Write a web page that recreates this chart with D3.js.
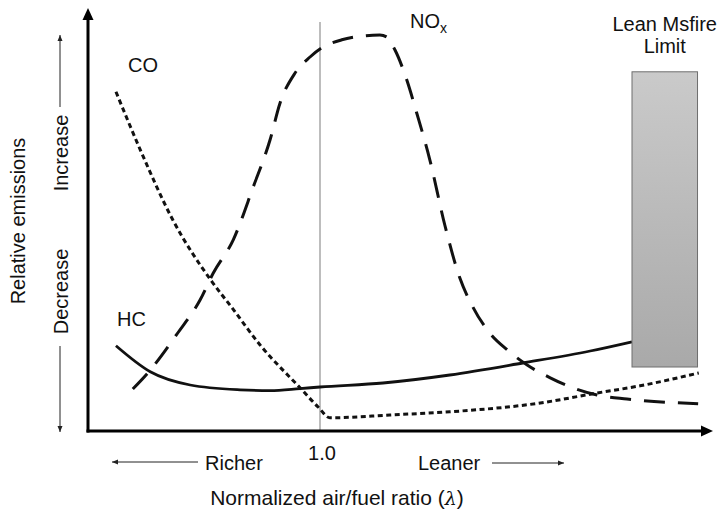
<!DOCTYPE html>
<html>
<head>
<meta charset="utf-8">
<script src="https://cdn.jsdelivr.net/npm/d3@7/dist/d3.min.js"></script>
<style>
  html, body { margin: 0; padding: 0; background: #fff; }
  svg { display: block; }
  text { font-family: "Liberation Sans", Arial, Helvetica, sans-serif; fill: #111; }
</style>
</head>
<body>
<div id="chart"></div>
<script>
// ---- Data ----
// x: normalized air/fuel ratio (lambda); y: relative emissions (arbitrary 0-100)
const coLambda  = [0.673, 0.712, 0.764, 0.827, 0.859, 0.904, 0.968, 0.997, 1.016, 1.112, 1.208, 1.353, 1.444, 1.513, 1.607];
const coValues  = [84.8, 70.3, 52.8, 37.3, 30.8, 21.5, 10.8, 6.0, 3.3, 4.0, 4.8, 7.0, 9.5, 11.3, 14.5];

const hcLambda  = [0.673, 0.728, 0.792, 0.872, 0.920, 0.968, 1.000, 1.101, 1.208, 1.325, 1.433, 1.500];
const hcValues  = [21.3, 14.8, 11.5, 10.3, 10.1, 10.6, 11.0, 12.0, 14.0, 17.0, 20.0, 22.3];

const noxLambda = [0.700, 0.724, 0.772, 0.808, 0.829, 0.861, 0.893, 0.920, 0.936, 0.960, 0.984, 1.003, 1.035, 1.056, 1.096, 1.107, 1.120, 1.139, 1.155, 1.176, 1.200, 1.224, 1.245, 1.272, 1.300, 1.332, 1.369, 1.405, 1.444, 1.492, 1.606];
const noxValues = [10.5, 14.5, 24.5, 32.8, 39.5, 47.8, 61.0, 72.8, 82.0, 89.5, 93.5, 95.8, 97.8, 98.5, 99.0, 98.5, 95.3, 87.8, 79.5, 67.8, 51.5, 38.3, 31.0, 24.5, 20.3, 16.5, 13.3, 10.8, 9.0, 8.0, 6.8];

const stoichLambda = 1.0;
const misfireLambda = [1.5, 1.605];   // lean misfire limit band
const misfireRange  = [16, 89.8];     // band extent on the emissions scale

const seriesLabels = { co: "CO", hc: "HC", nox: "NO", noxSub: "x" };
const tickLabels = ["1.0"];
const directionLabels = ["Richer", "Leaner"];
const yDirectionLabels = ["Increase", "Decrease"];
const xTitle = "Normalized air/fuel ratio (";
const xTitleSymbol = "\u03BB";
const yTitle = "Relative emissions";
const bandLabel = ["Lean Msfire", "Limit"];

// ---- Layout ----
const W = 722, H = 510;
const frame = { left: 88, bottom: 431, top: 8, right: 713 };

const svg = d3.select("#chart").append("svg").attr("width", W).attr("height", H);

const x = d3.scaleLinear().domain([1.0, 1.5]).range([320, 632]);
const y = d3.scaleLinear().domain([0, 100]).range([431, 31]);

const defs = svg.append("defs");
const grad = defs.append("linearGradient").attr("id", "bandGrad")
  .attr("x1", 0).attr("y1", 0).attr("x2", 0).attr("y2", 1);
grad.append("stop").attr("offset", "0%").attr("stop-color", "#cacaca");
grad.append("stop").attr("offset", "100%").attr("stop-color", "#a9a9a9");

// stoichiometric line
svg.append("line")
  .attr("x1", x(stoichLambda)).attr("x2", x(stoichLambda))
  .attr("y1", 22).attr("y2", frame.bottom)
  .attr("stroke", "#bdbdbd").attr("stroke-width", 2);

// curves
const line = d3.line().x(d => x(d[0])).y(d => y(d[1])).curve(d3.curveMonotoneX);
const co  = coLambda.map((l, i) => [l, coValues[i]]);
const hc  = hcLambda.map((l, i) => [l, hcValues[i]]);
const nox = noxLambda.map((l, i) => [l, noxValues[i]]);

svg.append("path").datum(nox).attr("d", line)
  .attr("fill", "none").attr("stroke", "#111").attr("stroke-width", 3)
  .attr("stroke-dasharray", "21,13");
svg.append("path").datum(co).attr("d", line)
  .attr("fill", "none").attr("stroke", "#111").attr("stroke-width", 3)
  .attr("stroke-dasharray", "5,3.5");
svg.append("path").datum(hc).attr("d", line)
  .attr("fill", "none").attr("stroke", "#111").attr("stroke-width", 2.8);

// lean misfire band
svg.append("rect")
  .attr("x", x(misfireLambda[0])).attr("width", x(misfireLambda[1]) - x(misfireLambda[0]))
  .attr("y", y(misfireRange[1])).attr("height", y(misfireRange[0]) - y(misfireRange[1]))
  .attr("fill", "url(#bandGrad)").attr("stroke", "#6e6e6e").attr("stroke-width", 1);

const bandCx = (x(misfireLambda[0]) + x(misfireLambda[1])) / 2;
svg.append("text").attr("x", bandCx).attr("y", 31).attr("text-anchor", "middle")
  .attr("font-size", 20).text(bandLabel[0]);
svg.append("text").attr("x", bandCx).attr("y", 53).attr("text-anchor", "middle")
  .attr("font-size", 20).text(bandLabel[1]);

// axes with arrowheads
svg.append("line").attr("x1", frame.left).attr("x2", frame.left)
  .attr("y1", frame.bottom + 1.5).attr("y2", frame.top + 8)
  .attr("stroke", "#000").attr("stroke-width", 3);
svg.append("path")
  .attr("d", `M${frame.left},${frame.top} L${frame.left - 5.5},${frame.top + 12} L${frame.left + 5.5},${frame.top + 12} Z`)
  .attr("fill", "#000");
svg.append("line").attr("x1", frame.left - 1.5).attr("x2", frame.right - 8)
  .attr("y1", frame.bottom).attr("y2", frame.bottom)
  .attr("stroke", "#000").attr("stroke-width", 3);
svg.append("path")
  .attr("d", `M${frame.right},${frame.bottom} L${frame.right - 12},${frame.bottom - 5.5} L${frame.right - 12},${frame.bottom + 5.5} Z`)
  .attr("fill", "#000");

// series labels
svg.append("text").attr("x", 128).attr("y", 72).attr("font-size", 20).text(seriesLabels.co);
svg.append("text").attr("x", 117).attr("y", 326).attr("font-size", 20).text(seriesLabels.hc);
const noxT = svg.append("text").attr("x", 410).attr("y", 28).attr("font-size", 20);
noxT.append("tspan").text(seriesLabels.nox);
noxT.append("tspan").attr("font-size", 14).attr("dy", 5).text(seriesLabels.noxSub);

// x tick label
svg.append("text").attr("x", x(stoichLambda) + 2).attr("y", 460).attr("text-anchor", "middle")
  .attr("font-size", 20).text(tickLabels[0]);

// direction labels + arrows
function arrow(x1, y1, x2, y2) {
  svg.append("line").attr("x1", x1).attr("y1", y1).attr("x2", x2).attr("y2", y2)
    .attr("stroke", "#222").attr("stroke-width", 1);
  const ang = Math.atan2(y2 - y1, x2 - x1);
  const L = 6, Wd = 2.5;
  const bx = x2 - L * Math.cos(ang), by = y2 - L * Math.sin(ang);
  const px = -Math.sin(ang) * Wd, py = Math.cos(ang) * Wd;
  svg.append("path").attr("d", `M${x2},${y2} L${bx + px},${by + py} L${bx - px},${by - py} Z`).attr("fill", "#222");
}
svg.append("text").attr("x", 205).attr("y", 470).attr("font-size", 20).text(directionLabels[0]);
arrow(198, 462, 112, 462);
svg.append("text").attr("x", 418).attr("y", 470).attr("font-size", 20).text(directionLabels[1]);
arrow(492, 463, 564, 463);

// y direction labels
svg.append("text").attr("transform", "translate(68,153) rotate(-90)").attr("text-anchor", "middle")
  .attr("font-size", 20).text(yDirectionLabels[0]);
arrow(60, 107, 60, 35);
svg.append("text").attr("transform", "translate(68,291.5) rotate(-90)").attr("text-anchor", "middle")
  .attr("font-size", 20).text(yDirectionLabels[1]);
arrow(60, 346, 60, 432);

// titles
svg.append("text").attr("transform", "translate(25,221) rotate(-90)").attr("text-anchor", "middle")
  .attr("font-size", 20).text(yTitle);
const xt = svg.append("text").attr("x", 337).attr("y", 505).attr("text-anchor", "middle")
  .attr("font-size", 21);
xt.append("tspan").text(xTitle);
xt.append("tspan").attr("font-style", "italic").attr("font-family", "'DejaVu Serif', serif").attr("font-size", 19).text(xTitleSymbol);
xt.append("tspan").text(")");
</script>
</body>
</html>
